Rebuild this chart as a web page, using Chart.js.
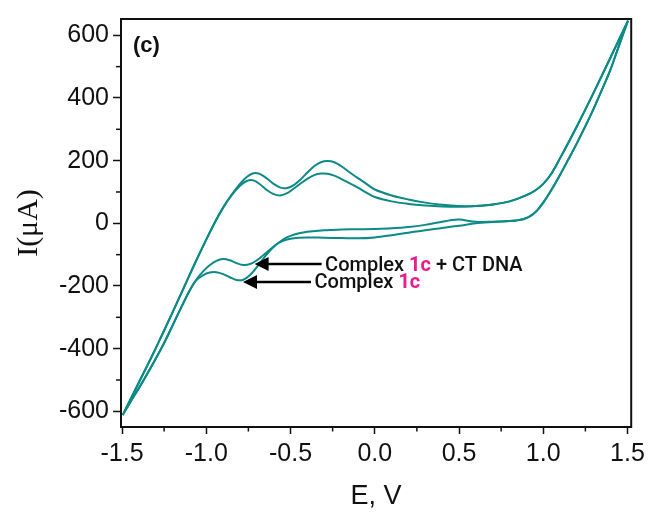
<!DOCTYPE html>
<html><head><meta charset="utf-8">
<script src="https://cdn.jsdelivr.net/npm/chart.js@4"></script>
<style>html,body{margin:0;padding:0;background:#fff;}</style>
</head><body>
<canvas id="c" width="650" height="513"></canvas>
<script>
// Forward (anodic) scan potentials, V
const scanUpE = [-1.496,-1.45,-1.4,-1.35,-1.3,-1.25,-1.2,-1.15,-1.1,-1.05,-1.0,-0.95,-0.9,-0.85,-0.8,-0.76,-0.72,-0.68,-0.64,-0.6,-0.56,-0.52,-0.48,-0.44,-0.4,-0.36,-0.32,-0.28,-0.24,-0.2,-0.15,-0.1,-0.05,0,0.1,0.2,0.3,0.4,0.5,0.6,0.7,0.8,0.9,0.95,1.0,1.05,1.1,1.2,1.3,1.4,1.503];
// Forward scan currents, µA
const complex1cUpI = [-612,-562,-508,-454,-399,-342,-284,-225,-166,-108,-52,2,50,91,126,148,160,157,143,126,114,113,122,140,162,182,195,199,195,183,163,144,126,108,89,76,66,59,55,55,60,70,90,104,126,160,208,310,418,530,647];
const complexDnaUpI = [-612,-562,-508,-454,-399,-342,-284,-225,-166,-108,-52,2,50,89,120,135,137,124,106,93,89,96,111,127,142,154,159,158,152,142,128,114,98,84,70,62,57,54,53,55,60,70,90,104,126,160,208,310,418,530,647];
// Reverse (cathodic) scan potentials, V
const scanDownE = [1.503,1.45,1.4,1.35,1.3,1.25,1.2,1.15,1.1,1.05,1.0,0.96,0.92,0.88,0.84,0.8,0.7,0.6,0.5,0.45,0.4,0.3,0.2,0.1,0.0,-0.1,-0.2,-0.3,-0.4,-0.45,-0.5,-0.54,-0.58,-0.62,-0.66,-0.7,-0.74,-0.78,-0.82,-0.86,-0.9,-0.94,-0.98,-1.02,-1.06,-1.1,-1.15,-1.2,-1.25,-1.3,-1.35,-1.4,-1.45,-1.496];
// Reverse scan currents, µA
const complex1cDownI = [647,568,492,428,367,310,256,205,155,108,66,39,22,13,9,7,5,5,12,10,5,-5,-12,-16,-18,-19,-20,-22,-27,-32,-40,-50,-66,-86,-112,-140,-165,-180,-181,-172,-162,-156,-157,-166,-182,-216,-270,-326,-382,-432,-480,-526,-570,-612];
const complexDnaDownI = [647,568,492,428,367,310,256,205,155,108,66,39,22,13,9,7,4,0,-8,-11,-15,-22,-30,-38,-45,-48,-47,-46,-45,-46,-49,-55,-66,-83,-101,-118,-130,-133,-127,-118,-114,-120,-134,-154,-180,-216,-270,-326,-382,-432,-480,-526,-570,-612];

const seriesNames = ['Complex 1c', 'Complex 1c + CT DNA'];
const panelLabel = '(c)';
const xTitle = 'E, V';
const yTitle = 'I(\u03bcA)';

const LINE = '#0b8a86';
const PINK = '#ec1c8c';

function loop(upI, downI) {
  const pts = scanUpE.map((e, i) => ({x: e, y: upI[i]}));
  return pts.concat(scanDownE.map((e, i) => ({x: e, y: downI[i]})));
}

// annotations anchored in data space
const notes = [
  {E: -0.713, I: -130, line: 67, parts: [['Complex ', '#111'], ['1c', PINK], [' + CT DNA', '#111']]},
  {E: -0.782, I: -187, line: 68, parts: [['Complex ', '#111'], ['1c', PINK]]}
];

const decor = {
  id: 'decor',
  afterDraw(chart) {
    const ctx = chart.ctx, a = chart.chartArea;
    const xs = chart.scales.x, ys = chart.scales.y;
    ctx.save();
    ctx.strokeStyle = '#111'; ctx.lineWidth = 2;
    ctx.strokeRect(a.left, a.top, a.right - a.left, a.bottom - a.top);
    ctx.lineWidth = 1.5;
    const xt = xs.ticks.map(t => t.value);
    for (let i = 0; i < xt.length - 1; i++) {
      const px = xs.getPixelForValue((xt[i] + xt[i + 1]) / 2);
      ctx.beginPath(); ctx.moveTo(px, a.bottom); ctx.lineTo(px, a.bottom + 4.5); ctx.stroke();
    }
    const yt = ys.ticks.map(t => t.value);
    for (let i = 0; i < yt.length - 1; i++) {
      const py = ys.getPixelForValue((yt[i] + yt[i + 1]) / 2);
      ctx.beginPath(); ctx.moveTo(a.left, py); ctx.lineTo(a.left - 5, py); ctx.stroke();
    }
    ctx.fillStyle = '#111';
    ctx.font = 'bold 22px "Liberation Sans", Arial, sans-serif';
    ctx.textBaseline = 'alphabetic'; ctx.textAlign = 'left';
    ctx.fillText(panelLabel, a.left + 12, a.top + 33);
    notes.forEach(n => {
      const px = xs.getPixelForValue(n.E), py = ys.getPixelForValue(n.I);
      ctx.fillStyle = '#000';
      ctx.beginPath(); ctx.moveTo(px, py); ctx.lineTo(px + 14, py - 7); ctx.lineTo(px + 14, py + 7); ctx.closePath(); ctx.fill();
      ctx.strokeStyle = '#000'; ctx.lineWidth = 2.5;
      ctx.beginPath(); ctx.moveTo(px + 12, py); ctx.lineTo(px + n.line, py); ctx.stroke();
      let tx = px + n.line + 3.5;
      n.parts.forEach(([t, c]) => {
        ctx.fillStyle = c;
        ctx.font = (c === PINK ? 'bold ' : '500 ') + '20px Roboto, "Noto Sans", sans-serif';
        ctx.fillText(t, tx, py + 6.5);
        tx += ctx.measureText(t).width;
      });
    });
    ctx.restore();
  }
};

const tickFont = {family: '"Liberation Sans", Arial, sans-serif', size: 25};

new Chart(document.getElementById('c'), {
  type: 'scatter',
  data: {
    datasets: [
      {label: seriesNames[0], data: loop(complex1cUpI, complex1cDownI)},
      {label: seriesNames[1], data: loop(complexDnaUpI, complexDnaDownI)}
    ].map(d => Object.assign(d, {showLine: true, borderColor: LINE, backgroundColor: LINE, borderWidth: 2, pointRadius: 0, tension: 0.35, fill: false}))
  },
  options: {
    responsive: false, animation: false, devicePixelRatio: 1,
    layout: {padding: {left: 0, top: 14, right: 17, bottom: 0}},
    plugins: {legend: {display: false}, tooltip: {enabled: false}},
    scales: {
      x: {
        type: 'linear', min: -1.506, max: 1.522,
        afterFit: s => { s.height = 86; },
        border: {display: false},
        grid: {drawOnChartArea: false, drawTicks: true, tickLength: 7, tickWidth: 1.5, tickColor: '#111'},
        ticks: {stepSize: 0.5, includeBounds: false, color: '#111', font: tickFont, padding: 5, maxRotation: 0,
          callback: v => Number(v).toFixed(1)},
        title: {display: true, text: xTitle, color: '#111', font: {family: '"Liberation Sans", Arial, sans-serif', size: 27}, padding: {top: 0, bottom: 0}}
      },
      y: {
        type: 'linear', min: -650, max: 652,
        afterFit: s => { s.width = 121; },
        border: {display: false},
        grid: {drawOnChartArea: false, drawTicks: true, tickLength: 8, tickWidth: 1.5, tickColor: '#111'},
        ticks: {stepSize: 200, includeBounds: false, color: '#111', font: tickFont, padding: 4,
          callback: v => String(v)},
        title: {display: true, text: yTitle, color: '#111', font: {family: '"Liberation Serif", "Times New Roman", serif', size: 30}, padding: {top: 11, bottom: 0}}
      }
    }
  },
  plugins: [decor]
});
</script>
</body></html>
